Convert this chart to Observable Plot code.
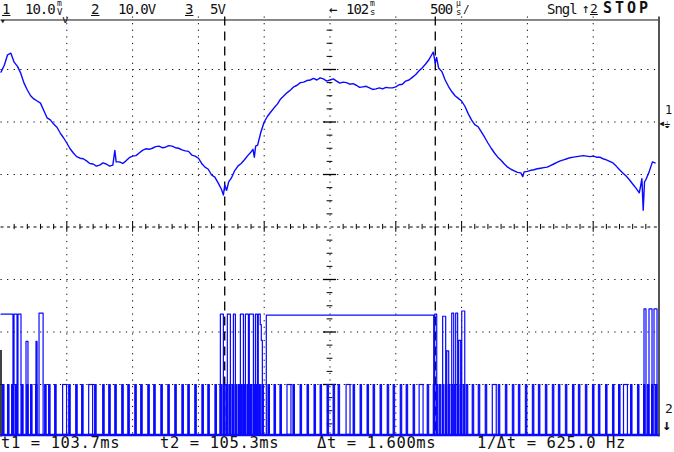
<!DOCTYPE html>
<html><head><meta charset="utf-8">
<script src="https://cdn.jsdelivr.net/npm/d3@7"></script>
<script src="https://cdn.jsdelivr.net/npm/@observablehq/plot@0.6"></script>
<style>
html,body{margin:0;padding:0;background:#fff;overflow:hidden}
#wrap{position:relative;width:674px;height:452px;overflow:hidden}
#wrap svg{position:absolute;left:0;top:0}
.t{position:absolute;font-family:"DejaVu Sans Mono",monospace;color:#111;white-space:pre;line-height:1}
</style></head><body><div id="wrap"></div>
<script>
// ---------- data ----------
// time base: 102 ms (left edge) .. 107 ms (right edge), 500 µs/div
const timeDomain = [102, 107];
const cursorTimes = [103.7, 105.3];          // t1, t2 (ms)
// channel 1 (10 mV/div), ground 2 div above centre: [time ms, mV]
const ch1Samples = [
[102.000,9.5],[102.025,10.8],[102.050,12.8],[102.075,13.1],[102.100,11.4],[102.125,10.6],[102.150,9.3],[102.175,7.4],[102.200,6.1],[102.225,5.0],
[102.250,4.4],[102.275,4.0],[102.300,3.6],[102.325,2.2],[102.350,0.8],[102.375,0.4],[102.400,-0.4],[102.425,-1.0],[102.450,-2.1],[102.475,-3.0],
[102.500,-4.0],[102.525,-5.1],[102.550,-5.9],[102.575,-6.6],[102.600,-6.9],[102.625,-7.0],[102.650,-7.4],[102.675,-7.9],[102.700,-8.0],[102.725,-8.4],
[102.750,-8.2],[102.775,-7.8],[102.800,-8.0],[102.825,-8.4],[102.850,-8.2],[102.865,-5.4],[102.875,-7.6],[102.900,-7.6],[102.925,-7.9],[102.950,-7.4],
[102.975,-6.8],[103.000,-6.5],[103.025,-6.4],[103.050,-5.9],[103.075,-5.4],[103.100,-5.1],[103.125,-5.2],[103.150,-5.0],[103.175,-4.7],[103.200,-4.6],
[103.225,-4.9],[103.250,-4.8],[103.275,-4.5],[103.300,-4.6],[103.325,-4.9],[103.350,-5.0],[103.375,-5.3],[103.400,-5.5],[103.425,-5.6],[103.450,-6.3],
[103.475,-6.5],[103.500,-6.9],[103.525,-7.9],[103.550,-8.6],[103.575,-9.0],[103.600,-10.1],[103.625,-10.5],[103.650,-11.6],[103.675,-12.8],[103.690,-13.9],
[103.700,-12.0],[103.715,-13.0],[103.730,-11.4],[103.750,-10.7],[103.775,-9.3],[103.800,-8.4],[103.825,-7.9],[103.850,-7.2],[103.875,-6.4],[103.900,-5.7],
[103.915,-5.2],[103.925,-6.7],[103.935,-4.6],[103.950,-4.4],[103.975,-1.9],[104.000,0.0],[104.025,1.1],[104.050,1.9],[104.075,2.7],[104.100,3.4],
[104.125,4.4],[104.150,5.0],[104.175,5.6],[104.200,6.1],[104.225,6.7],[104.250,7.0],[104.275,7.5],[104.300,7.6],[104.325,7.9],[104.350,8.0],
[104.375,8.3],[104.400,8.0],[104.425,8.4],[104.450,8.2],[104.475,7.8],[104.500,8.0],[104.525,8.2],[104.550,7.8],[104.575,7.4],[104.600,7.6],
[104.625,7.5],[104.650,7.2],[104.675,7.3],[104.700,7.0],[104.725,6.6],[104.750,6.7],[104.775,6.8],[104.800,6.5],[104.825,6.2],[104.850,6.3],
[104.875,6.5],[104.900,6.3],[104.925,6.6],[104.950,6.5],[104.975,6.5],[105.000,6.7],[105.025,7.1],[105.050,7.2],[105.075,7.8],[105.100,8.0],
[105.125,8.5],[105.150,9.0],[105.175,9.7],[105.200,10.3],[105.225,11.0],[105.250,11.8],[105.275,12.9],[105.285,13.3],[105.300,11.2],[105.310,12.3],
[105.325,10.3],[105.350,9.6],[105.375,8.0],[105.400,6.8],[105.425,5.8],[105.450,5.0],[105.475,4.5],[105.500,4.0],[105.525,3.0],[105.550,1.6],
[105.575,0.4],[105.600,-0.5],[105.625,-0.9],[105.650,-1.9],[105.675,-2.9],[105.700,-4.0],[105.725,-5.0],[105.750,-5.9],[105.775,-6.7],[105.800,-7.3],
[105.825,-8.0],[105.850,-8.6],[105.875,-9.0],[105.900,-9.3],[105.925,-9.6],[105.950,-9.7],[105.965,-10.4],[105.975,-9.5],[106.000,-9.4],[106.025,-9.2],
[106.050,-9.1],[106.075,-8.9],[106.100,-8.8],[106.125,-8.7],[106.150,-8.6],[106.175,-8.3],[106.200,-8.0],[106.225,-7.7],[106.250,-7.4],[106.275,-7.2],
[106.300,-7.0],[106.325,-6.8],[106.350,-6.7],[106.375,-6.6],[106.400,-6.5],[106.425,-6.4],[106.450,-6.5],[106.475,-6.6],[106.500,-6.5],[106.525,-6.7],
[106.550,-6.7],[106.575,-7.0],[106.600,-7.2],[106.625,-7.5],[106.650,-7.8],[106.675,-8.4],[106.700,-9.1],[106.725,-9.7],[106.750,-10.3],[106.775,-11.0],
[106.800,-11.8],[106.825,-12.6],[106.850,-13.5],[106.860,-12.2],[106.870,-10.8],[106.880,-16.8],[106.890,-11.4],[106.900,-11.0],[106.925,-9.5],[106.950,-7.6],
[106.970,-7.8]
];
// channel 2 (10 V/div): PWM pulse start times (ms)
const ch2PulseStart = [
102.015,102.053,102.084,102.114,102.160,102.198,102.228,102.266,102.335,102.365,102.411,102.472,102.518,102.571,102.616,102.670,102.715,102.776,102.822,102.868,
102.921,102.967,103.020,103.065,103.119,103.164,103.218,103.271,103.324,103.378,103.423,103.476,103.530,103.575,103.629,
103.667,103.690,103.712,103.735,103.758,103.781,103.804,103.826,103.849,103.872,103.895,103.918,103.941,103.963,
103.986,104.032,104.078,104.123,104.177,104.222,104.276,104.329,104.382,104.428,104.481,104.527,104.565,104.626,104.679,104.732,104.785,104.831,104.884,104.938,
104.983,105.037,105.082,105.135,105.181,105.242,105.288,
105.311,105.333,105.356,105.379,105.402,105.425,105.447,105.470,105.493,105.516,105.539,
105.584,105.630,105.683,105.737,105.782,105.836,105.889,105.935,105.988,106.041,106.087,106.140,106.193,106.239,106.292,106.346,106.391,106.444,106.498,106.543,
106.597,106.650,106.696,106.734,106.787,106.840,106.886,106.916,106.947,106.977
];
const ch2WidePulses = [102.472,102.670,104.177,104.626,105.181,105.737,106.734];
const ch2HighVolts = 9.5;
// channel 3 (5 V/div): step trace [time ms, V]
const ch3Time = [102.000,102.091,102.099,102.122,102.129,102.152,102.190,102.205,102.266,102.274,102.289,102.320,
103.667,103.690,103.720,103.743,103.766,103.781,103.819,103.842,103.857,103.880,103.887,103.918,103.933,103.948,103.955,103.970,103.978,103.986,
104.016,105.288,105.296,105.311,105.356,105.379,105.387,105.402,105.425,105.440,105.455,105.470,105.478,105.493,105.501,105.524,
106.886,106.901,106.924,106.947,106.962,106.985,107.000];
const ch3Volt = [11.5,0,11.5,0,11.5,0,8.9,0,8.9,0,11.6,0,
11.5,0,11.5,0,11.5,0,11.5,0,11.5,0,11.5,0,11.5,0,11.5,10.5,9.0,0,
11.4,0,11.5,0,11.3,0,8.0,0,11.6,0,11.6,0,9.0,0,11.8,0,
12.0,0,12.0,0,12.0,0,0];

// ---------- helpers ----------
const BLUE = "#0a0aff";
const ch1Div = mv => 2 + mv / 10;          // ground 2 div above centre
const chBase = -3.96;                       // ch2/ch3 ground (just above bottom edge)
const ch2Div = v => chBase + v / 10;
const ch3Div = v => chBase + v / 5;

const ch1 = ch1Samples.map(([t, v]) => ({t, y: ch1Div(v)}));
const ch3 = ch3Time.map((t, i) => ({t, y: ch3Div(ch3Volt[i])}));
const pulses = ch2PulseStart.map(t => {
  const wide = ch2WidePulses.includes(t);
  return {t1: t, t2: t + (wide ? 0.03 : 0.012), wide};
});

const gridT = [102.5,103,103.5,104,105,105.5,106,106.5];
const gridD = [-3,-2,-1,1,2,3];
const minorD = d3.range(-4, 4.001, 0.25).filter(d => Math.abs(d % 1) > 1e-6);
const majorD = [-3,-2,-1,1,2,3];
const minorT = d3.range(102, 107.001, 0.1).filter(t => Math.abs(((t - 102) / 0.5) - Math.round((t - 102) / 0.5)) > 1e-6);
const majorT = [102.5,103,103.5,104,105,105.5,106,106.5];

const dots = "1.2,5.4";
const plot = Plot.plot({
  width: 674, height: 452,
  marginLeft: 0.5, marginRight: 15.5, marginTop: 16.5, marginBottom: 15.5,
  x: {domain: timeDomain, axis: null},
  y: {domain: [-4, 4], axis: null},
  style: {background: "#fff"},
  marks: [
    Plot.ruleX(gridT, {stroke: "#000", strokeDasharray: dots, strokeWidth: 1}),
    Plot.ruleY(gridD, {stroke: "#000", strokeDasharray: dots, strokeWidth: 1}),
    Plot.ruleX([104.5], {stroke: "#000", strokeDasharray: dots}),
    Plot.ruleY([0], {stroke: "#000", strokeDasharray: "3,3.6"}),
    Plot.ruleY(minorD, {y: d => d, x1: () => 104.5 - 0.022, x2: () => 104.5 + 0.022, stroke: "#000"}),
    Plot.ruleY(majorD, {y: d => d, x1: () => 104.5 - 0.05, x2: () => 104.5 + 0.05, stroke: "#000", strokeWidth: 1.3}),
    Plot.ruleX(minorT, {x: d => d, y1: () => -0.05, y2: () => 0.05, stroke: "#000"}),
    Plot.ruleX(majorT, {x: d => d, y1: () => -0.1, y2: () => 0.1, stroke: "#000"}),
    // frame pieces
    Plot.ruleY([3.943], {stroke: "#111", strokeWidth: 1}),
    Plot.ruleX([107], {stroke: "#555", strokeWidth: 2}),
    Plot.ruleX([102], {y1: () => -2.35, y2: () => -4, stroke: "#000", strokeWidth: 1.5}),
    // cursors
    Plot.ruleX(cursorTimes, {stroke: "#000", strokeWidth: 1.3, strokeDasharray: "9,6"}),
    // channel 3
    Plot.line(ch3, {x: "t", y: "y", curve: "step-after", stroke: BLUE, strokeWidth: 1.2}),
    // channel 2 pulses + baseline
    Plot.rect(pulses.filter(d => !d.wide), {x1: "t1", x2: "t2", y1: () => chBase, y2: () => ch2Div(ch2HighVolts), fill: BLUE, stroke: BLUE, strokeWidth: 1}),
    Plot.rect(pulses.filter(d => d.wide), {x1: "t1", x2: "t2", y1: () => chBase, y2: () => ch2Div(ch2HighVolts), fill: "#fff", stroke: BLUE, strokeWidth: 1.2}),
    Plot.ruleY([chBase], {stroke: BLUE, strokeWidth: 2.5}),
    // channel 1
    Plot.line(ch1, {x: "t", y: "y", stroke: BLUE, strokeWidth: 1.4})
  ]
});
const wrap = document.getElementById("wrap");
wrap.appendChild(plot);

function addText(txt, left, top, size, extra = {}) {
  const s = document.createElement("div");
  s.className = "t";
  s.textContent = txt;
  s.style.left = left + "px"; s.style.top = top + "px"; s.style.fontSize = size + "px";
  Object.assign(s.style, extra);
  wrap.appendChild(s);
}
const tight = {letterSpacing: "-1px"};
// header
addText("1", 2, 2, 14, {textDecoration: "underline"});
addText("10.0", 25, 2, 14, tight);
addText("m", 57, 0, 8); addText("V", 57, 8, 9);
addText("2", 91, 2, 14, {textDecoration: "underline"});
addText("10.0V", 118, 2, 14, tight);
addText("3", 185, 2, 14, {textDecoration: "underline"});
addText("5V", 210, 2, 14, tight);
addText("←", 329, 2, 14);
addText("102", 346, 2, 14, tight);
addText("m", 370, 0, 8); addText("s", 370, 8, 9);
addText("500", 430, 2, 14, tight);
addText("µ", 456, 0, 8); addText("s", 456, 8, 9); addText("/", 463, 4, 11);
addText("Sngl", 547, 2, 14, tight);
addText("↑", 582, 2, 13); addText("2", 590, 2, 13, {textDecoration: "underline"});
addText("STOP", 603, 1, 15, {fontWeight: "bold", letterSpacing: "3px"});
// markers
addText("▾", 0, 17, 9); addText("v", 62, 14, 11);
addText("◂", 658, 117, 12); addText("1", 665, 104, 12); addText("⏚", 664, 121, 9);
addText("2", 665, 402, 13); addText("↓", 662, 418, 15, {fontWeight: "bold"});
// footer
const foot = {letterSpacing: "0.6px"};
addText("t1 = 103.7ms", 1, 436, 15.5, foot);
addText("t2 = 105.3ms", 160, 436, 15.5, foot);
addText("Δt = 1.600ms", 317, 436, 15.5, foot);
addText("1/Δt = 625.0 Hz", 477, 436, 15.5, foot);
</script>
</body></html>
